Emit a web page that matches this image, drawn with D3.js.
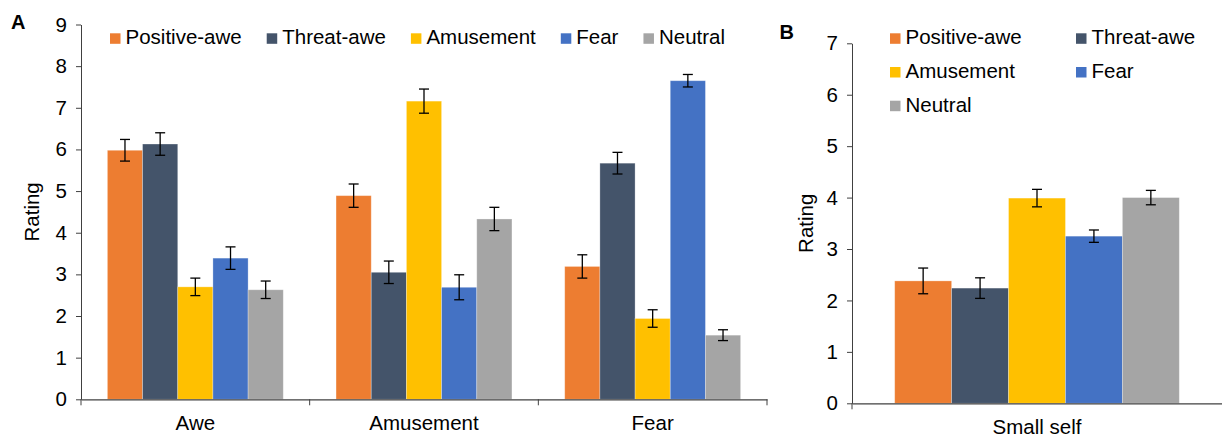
<!DOCTYPE html>
<html>
<head>
<meta charset="utf-8">
<script src="https://cdn.jsdelivr.net/npm/d3@7"></script>
<style>
  body { margin: 0; background: #fff; }
  text { font-family: "Liberation Sans", Arial, sans-serif; fill: #000; }
</style>
</head>
<body>
<svg id="chart" width="1222" height="437"></svg>
<script>

// data
var series = ["Positive-awe", "Threat-awe", "Amusement", "Fear", "Neutral"];
var colours = ["#ED7D31", "#44546A", "#FFC000", "#4472C4", "#A5A5A5"];

var categoriesA = ["Awe", "Amusement", "Fear"];
var awe = [5.98, 6.13, 2.70, 3.39, 2.63];
var aweErr = [0.26, 0.27, 0.21, 0.27, 0.21];
var amusement = [4.89, 3.05, 7.16, 2.69, 4.33];
var amusementErr = [0.28, 0.27, 0.29, 0.30, 0.28];
var fear = [3.19, 5.67, 1.94, 7.65, 1.54];
var fearErr = [0.28, 0.26, 0.21, 0.15, 0.13];
var ticksA = [0, 1, 2, 3, 4, 5, 6, 7, 8, 9];

var categoriesB = ["Small self"];
var smallSelf = [2.38, 2.24, 3.99, 3.25, 4.00];
var smallSelfErr = [0.25, 0.20, 0.17, 0.12, 0.14];
var ticksB = [0, 1, 2, 3, 4, 5, 6, 7];

var fontSize = 20.5;
var svg = d3.select("#chart");

function drawPanel(opt) {
    var g = svg.append("g");

    var x = d3.scaleBand()
        .domain(opt.categories)
        .range([opt.left, opt.right])
        .padding(0);

    var xInner = d3.scaleBand()
        .domain(series)
        .range([0, x.bandwidth()])
        .paddingInner(0)
        .paddingOuter(0.75);

    var y = d3.scaleLinear()
        .domain([0, d3.max(opt.ticks)])
        .range([opt.bottom, opt.top]);

    var rows = [];
    opt.categories.forEach((c, ci) => {
        series.forEach((s, si) => {
            rows.push({ cat: c, s: s, i: si, v: opt.values[ci][si], e: opt.errors[ci][si] });
        });
    });

    // bars
    g.append("g")
        .selectAll("rect")
        .data(rows)
        .enter()
        .append("rect")
        .attr("x", d => x(d.cat) + xInner(d.s))
        .attr("y", d => y(d.v))
        .attr("width", xInner.bandwidth())
        .attr("height", d => y(0) - y(d.v))
        .attr("fill", d => colours[d.i])
        .attr("stroke", "#fff")
        .attr("stroke-opacity", 0.35)
        .attr("stroke-width", 0.8);

    // error bars
    var eb = g.append("g")
        .selectAll("g")
        .data(rows)
        .enter()
        .append("g")
        .attr("stroke", "#000")
        .attr("stroke-width", 1.3);
    var cx = d => x(d.cat) + xInner(d.s) + xInner.bandwidth() / 2;
    eb.append("line")
        .attr("x1", cx).attr("x2", cx)
        .attr("y1", d => y(d.v + d.e)).attr("y2", d => y(d.v - d.e));
    eb.append("line")
        .attr("x1", d => cx(d) - 5).attr("x2", d => cx(d) + 5)
        .attr("y1", d => y(d.v + d.e)).attr("y2", d => y(d.v + d.e));
    eb.append("line")
        .attr("x1", d => cx(d) - 5).attr("x2", d => cx(d) + 5)
        .attr("y1", d => y(d.v - d.e)).attr("y2", d => y(d.v - d.e));

    // y axis
    var yAxis = g.append("g")
        .attr("transform", "translate(" + opt.left + ",0)")
        .call(d3.axisLeft(y).tickValues(opt.ticks).tickFormat(d3.format("d"))
            .tickSize(5).tickSizeOuter(0).tickPadding(9));
    yAxis.selectAll("text").attr("font-size", fontSize).style("font-family", null);
    yAxis.selectAll("line, path").attr("stroke", "#404040");

    // x axis
    var xAxis = g.append("g")
        .attr("transform", "translate(0," + y(0) + ")")
        .call(d3.axisBottom(x).tickSize(0).tickPadding(16));
    xAxis.selectAll("text").attr("font-size", fontSize).style("font-family", null);
    xAxis.select("path").attr("stroke", "#404040").attr("stroke-width", 1.2);

    // separators between categories
    var edges = opt.categories.map(c => x(c));
    if (opt.closeRight) edges.push(opt.right);
    g.append("g")
        .selectAll("line")
        .data(edges)
        .enter()
        .append("line")
        .attr("x1", d => d).attr("x2", d => d)
        .attr("y1", y(0)).attr("y2", y(0) + 6)
        .attr("stroke", "#404040");

    // axis title
    g.append("text")
        .attr("transform", "translate(" + opt.titleX + "," + ((opt.top + opt.bottom) / 2) + ") rotate(-90)")
        .attr("text-anchor", "middle")
        .attr("font-size", fontSize)
        .text("Rating");

    // panel letter
    g.append("text")
        .attr("x", opt.letterX)
        .attr("y", opt.letterY)
        .attr("font-size", 20)
        .attr("font-weight", "bold")
        .text(opt.letter);

    // legend
    var legend = g.append("g");
    series.forEach((s, i) => {
        var pos = opt.legendPos(i);
        legend.append("rect")
            .attr("x", pos[0]).attr("y", pos[1] - 11)
            .attr("width", 10.5).attr("height", 10.5)
            .attr("fill", colours[i]);
        var t = legend.append("text")
            .attr("x", pos[0] + 15.5).attr("y", pos[1])
            .attr("font-size", fontSize)
            .text(s);
        if (opt.legendRow) opt.legendRow(t.node().getComputedTextLength() + 15.5);
    });
}

// panel A: single row legend
var legendCursor = 110;
var nextCursor = 110;
drawPanel({
    categories: categoriesA,
    values: [awe, amusement, fear],
    errors: [aweErr, amusementErr, fearErr],
    ticks: ticksA,
    left: 81, right: 767, top: 24.5, bottom: 399.3,
    closeRight: true,
    titleX: 39, letter: "A", letterX: 11, letterY: 28.5,
    legendPos: i => { legendCursor = nextCursor; return [legendCursor, 44.3]; },
    legendRow: w => { nextCursor = legendCursor + w + 25; }
});

// panel B: two-column legend
drawPanel({
    categories: categoriesB,
    values: [smallSelf],
    errors: [smallSelfErr],
    ticks: ticksB,
    left: 852, right: 1222, top: 43.3, bottom: 403.3,
    closeRight: false,
    titleX: 813, letter: "B", letterX: 779.5, letterY: 38.5,
    legendPos: i => [i % 2 === 0 ? 890 : 1076, 44.3 + Math.floor(i / 2) * 33.7]
});

</script>
</body>
</html>
